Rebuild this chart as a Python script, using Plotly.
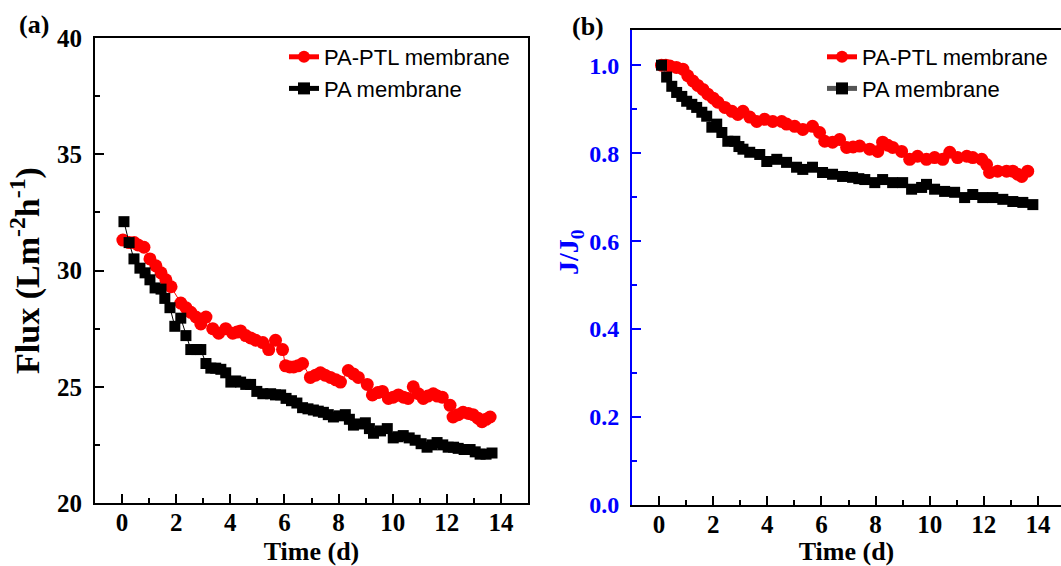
import plotly.graph_objects as go

# ---------------- data ----------------
# Panel (a): flux vs time
t_ptl_a = [0.03,0.26,0.45,0.59,0.81,1.03,1.25,1.44,1.62,1.81,2.17,2.36,2.54,2.73,2.91,3.10,3.35,3.57,3.83,4.09,
           4.25,4.38,4.57,4.75,4.94,5.20,5.42,5.67,5.93,6.04,6.2,6.34,6.5,6.67,6.96,7.15,7.33,7.5,7.70,7.9,
           8.07,8.36,8.55,8.73,9.06,9.25,9.45,9.62,9.84,10.02,10.21,10.4,10.57,10.76,10.95,11.13,11.3,11.50,11.65,11.83,
           12.12,12.23,12.42,12.60,12.8,12.97,13.15,13.30,13.45,13.60]
flux_ptl = [31.31,31.2,31.2,31.1,31.0,30.5,30.2,29.9,29.6,29.3,28.6,28.4,28.2,28.0,27.7,28.0,27.5,27.3,27.5,27.3,
            27.35,27.4,27.2,27.1,27.0,26.9,26.6,27.0,26.6,25.9,25.85,25.85,25.9,26.0,25.4,25.5,25.6,25.5,25.4,25.3,
            25.2,25.7,25.55,25.4,25.1,24.65,24.75,24.8,24.5,24.55,24.65,24.55,24.5,25.0,24.7,24.5,24.6,24.7,24.6,24.55,
            24.2,23.7,23.8,23.9,23.85,23.8,23.65,23.5,23.6,23.7]

t_pa_a = [0.07,0.26,0.44,0.66,0.85,1.03,1.22,1.44,1.58,1.77,1.95,2.17,2.36,2.54,2.76,2.91,3.10,3.28,3.46,3.65,
          3.83,4.02,4.2,4.38,4.57,4.75,4.98,5.20,5.49,5.67,5.86,6.06,6.26,6.46,6.67,6.87,7.07,7.25,7.44,7.62,
          7.81,8.03,8.25,8.40,8.55,8.77,8.99,9.14,9.29,9.55,9.80,10.02,10.2,10.39,10.61,10.83,11.05,11.27,11.45,11.64,
          11.85,12.05,12.25,12.42,12.64,12.86,13.05,13.23,13.45,13.67]
flux_pa = [32.1,31.2,30.5,30.1,29.9,29.6,29.25,29.2,28.8,28.4,27.6,27.95,27.2,26.6,26.6,26.6,26.0,25.8,25.8,25.75,
           25.6,25.2,25.25,25.2,25.1,25.1,24.8,24.7,24.7,24.65,24.65,24.5,24.4,24.3,24.1,24.05,24.0,23.95,23.9,23.8,
           23.7,23.75,23.8,23.6,23.35,23.4,23.45,23.2,23.0,23.1,23.2,22.8,22.85,22.9,22.8,22.7,22.55,22.4,22.5,22.6,
           22.5,22.4,22.4,22.35,22.3,22.3,22.2,22.1,22.1,22.15]

# Panel (b): normalised flux J/J0 vs time
t_ptl_b = [0.09,0.25,0.40,0.64,0.88,1.06,1.25,1.43,1.62,1.80,2.0,2.17,2.43,2.69,2.91,3.10,3.35,3.61,3.90,4.20,
           4.53,4.71,5.01,5.31,5.67,5.93,6.12,6.41,6.67,6.93,7.17,7.41,7.78,8.08,8.26,8.45,8.63,8.96,9.26,9.55,
           9.88,10.18,10.48,10.74,11.03,11.37,11.59,11.92,12.10,12.21,12.51,12.84,13.07,13.25,13.40,13.62]
jj0_ptl = [1.0,1.0,0.998,0.995,0.991,0.976,0.964,0.954,0.945,0.934,0.925,0.916,0.904,0.895,0.888,0.895,0.882,0.872,0.877,0.872,
           0.872,0.866,0.861,0.854,0.861,0.847,0.827,0.825,0.831,0.813,0.814,0.816,0.809,0.804,0.825,0.818,0.813,0.804,0.786,0.793,
           0.786,0.790,0.786,0.802,0.790,0.793,0.790,0.786,0.774,0.756,0.759,0.759,0.759,0.752,0.747,0.759]

t_pa_b = [0.09,0.28,0.47,0.65,0.84,1.02,1.21,1.39,1.58,1.76,1.95,2.13,2.32,2.54,2.80,2.95,3.10,3.35,3.72,3.98,
          4.35,4.71,5.08,5.31,5.67,6.04,6.41,6.78,7.15,7.38,7.60,7.97,8.26,8.63,9.00,9.33,9.70,9.88,10.18,10.55,
          10.92,11.29,11.59,11.96,12.33,12.70,13.07,13.44,13.81]
jj0_pa = [1.0,0.973,0.952,0.938,0.929,0.918,0.911,0.904,0.893,0.884,0.859,0.866,0.847,0.827,0.827,0.815,0.809,0.802,0.797,0.781,
          0.786,0.779,0.768,0.763,0.768,0.756,0.752,0.747,0.745,0.742,0.740,0.733,0.740,0.733,0.733,0.718,0.722,0.729,0.718,0.713,
          0.711,0.699,0.706,0.699,0.699,0.695,0.690,0.688,0.683]

names = ["PA-PTL membrane", "PA membrane"]
x_ticks = [0, 2, 4, 6, 8, 10, 12, 14]

# ---------------- styling / layout geometry (pixels) ----------------
W, H = 1061, 566
ML, MR, MT, MB = 95, 0, 30, 61
PW, PH = W - ML - MR, H - MT - MB
SERIF = "Liberation Serif"
SANS = "Liberation Sans"
BLUE = "#0000FF"

def fx(p):  # page x pixel -> paper (plot-area) fraction
    return (p - ML) / PW

def fy(p):  # page y pixel -> paper (plot-area) fraction
    return 1 - (p - MT) / PH

tickfont = dict(family=SERIF, size=25, color="black", weight="bold")
tickfont_b = dict(family=SERIF, size=24, color=BLUE, weight="bold")
titlefont = dict(family=SERIF, size=26, color="black", weight="bold")

fig = go.Figure()

red_marker = dict(symbol="circle", size=13, color="#FF0000")
blk_marker = dict(symbol="square", size=11, color="#000000")

fig.add_trace(go.Scatter(x=t_ptl_a, y=flux_ptl, mode="lines+markers", name=names[0],
                         line=dict(color="#FF0000", width=1), marker=red_marker,
                         xaxis="x", yaxis="y", legend="legend", legendgroup="a1"))
fig.add_trace(go.Scatter(x=t_pa_a, y=flux_pa, mode="lines+markers", name=names[1],
                         line=dict(color="#000000", width=1), marker=blk_marker,
                         xaxis="x", yaxis="y", legend="legend", legendgroup="a2"))
fig.add_trace(go.Scatter(x=t_ptl_b, y=jj0_ptl, mode="lines+markers", name=names[0],
                         line=dict(color="#FF0000", width=1), marker=red_marker,
                         xaxis="x2", yaxis="y2", legend="legend2", legendgroup="b1"))
fig.add_trace(go.Scatter(x=t_pa_b, y=jj0_pa, mode="lines+markers", name=names[1],
                         line=dict(color="#555555", width=1), marker=blk_marker,
                         xaxis="x2", yaxis="y2", legend="legend2", legendgroup="b2"))

common_x = dict(tickmode="array", tickvals=x_ticks, ticks="inside", ticklen=9, tickwidth=2,
                tickcolor="black", showline=True, linecolor="black", linewidth=2,
                showgrid=False, zeroline=False, tickfont=tickfont, automargin=False,
                ticklabelstandoff=-4,
                minor=dict(ticks="inside", ticklen=5, tickwidth=2, tickcolor="black", dtick=1, tick0=0, showgrid=False),
                title=dict(text="Time (d)", font=titlefont, standoff=8))

legend_common = dict(xanchor="left", yanchor="top",
                     font=dict(family=SANS, size=22, color="black"),
                     bgcolor="rgba(0,0,0,0)", tracegroupgap=0, itemsizing="constant")

fig.update_layout(
    width=W, height=H,
    margin=dict(l=ML, r=MR, t=MT, b=MB, autoexpand=False),
    paper_bgcolor="white", plot_bgcolor="white",
    xaxis=dict(domain=[fx(95), fx(528)], range=[-1, 15], anchor="y", mirror=True, **common_x),
    yaxis=dict(domain=[fy(503), fy(38)], range=[20, 40], anchor="x", dtick=5, tick0=20,
               ticks="inside", ticklen=9, tickwidth=2, tickcolor="black",
               showline=True, linecolor="black", linewidth=2, mirror=True,
               showgrid=False, zeroline=False, tickfont=tickfont, automargin=False,
               ticklabelstandoff=6,
               minor=dict(ticks="inside", ticklen=5, tickwidth=2, tickcolor="black", dtick=2.5, showgrid=False),
               title=dict(text="Flux (Lm<sup>-2</sup>h<sup>-1</sup>)",
                          font=dict(family=SERIF, size=34, color="black", weight="bold"), standoff=7)),
    xaxis2=dict(domain=[fx(632), 1.0], range=[-1, 14.85], anchor="y2", mirror=True, **common_x),
    yaxis2=dict(domain=[fy(505), fy(30)], range=[0, 1.08], anchor="x2", dtick=0.2, tick0=0,
                tickformat=".1f",
                ticks="inside", ticklen=9, tickwidth=2, tickcolor=BLUE,
                showline=True, linecolor=BLUE, linewidth=2, mirror=False,
                showgrid=False, zeroline=False, tickfont=tickfont_b, automargin=False,
                ticklabelstandoff=6,
                minor=dict(ticks="inside", ticklen=5, tickwidth=2, tickcolor=BLUE, dtick=0.1, showgrid=False)),
    legend=dict(x=fx(284), y=fy(36), **legend_common),
    legend2=dict(x=fx(822), y=fy(36), **legend_common),
    showlegend=True,
    annotations=[
        dict(text="(a)", x=fx(34), y=fy(25), xref="paper", yref="paper", showarrow=False,
             xanchor="center", yanchor="middle",
             font=dict(family=SERIF, size=26, color="black", weight="bold")),
        dict(text="(b)", x=fx(588), y=fy(27), xref="paper", yref="paper", showarrow=False,
             xanchor="center", yanchor="middle",
             font=dict(family=SERIF, size=26, color="black", weight="bold")),
        dict(text="J/J<sub>0</sub>", x=fx(570), y=fy(252), xref="paper", yref="paper", showarrow=False,
             xanchor="center", yanchor="middle", textangle=-90,
             font=dict(family=SERIF, size=28, color=BLUE, weight="bold")),
    ],
)

fig.write_html("out.html", config={"displayModeBar": False},
               post_script="document.body.style.margin='0';document.body.style.overflow='hidden';")
